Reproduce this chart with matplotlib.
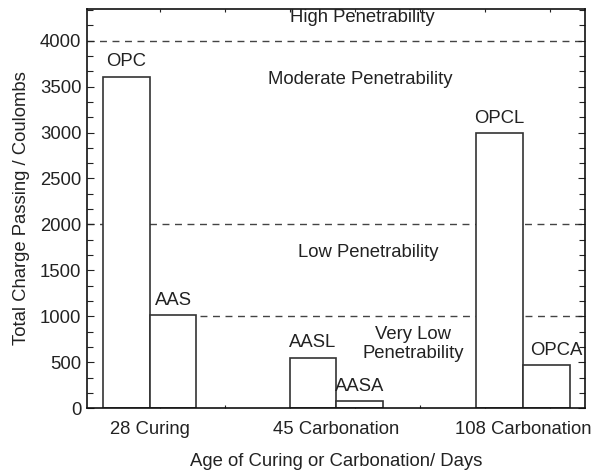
import numpy as np
import matplotlib
matplotlib.use('Agg')
import matplotlib.pyplot as plt
from matplotlib.ticker import MultipleLocator, AutoMinorLocator, FixedLocator

plt.rcParams['font.family'] = ['Liberation Sans', 'DejaVu Sans']

# data
groups = ['28 Curing', '45 Carbonation', '108 Carbonation']
left_names = ['OPC', 'AASL', 'OPCL']
left_vals = [3610, 550, 2990]
right_names = ['AAS', 'AASA', 'OPCA']
right_vals = [1010, 80, 465]
limits = [4000, 2000, 1000]

fig = plt.figure(figsize=(5.95, 4.73), dpi=100)
ax = fig.add_axes([0.1462, 0.137, 0.837, 0.845])

x = np.arange(1, len(groups) + 1)
width = 0.25
ec = '#333333'
tc = '#222222'

# penetrability limits (drawn behind the bars)
dash = (0, (5, 4))
ax.axhline(limits[0], color='#444444', lw=1.0, ls=dash, zorder=1)
ax.axhline(limits[1], color='#444444', lw=1.0, ls=dash, zorder=1)
ax.plot([x[0], 3.34], [limits[2], limits[2]], color='#444444', lw=1.0,
        ls=dash, zorder=1)

b1 = ax.bar(x - width / 2, left_vals, width, color='white', edgecolor=ec,
            linewidth=1.2, zorder=2)
b2 = ax.bar(x + width / 2, right_vals, width, color='white', edgecolor=ec,
            linewidth=1.2, zorder=2)

fs = 13.3
for rect, name in zip(list(b1) + list(b2), left_names + right_names):
    dx = 7 if name == 'OPCA' else 0
    ax.annotate(name, (rect.get_x() + rect.get_width() / 2, rect.get_height()),
                xytext=(dx, 4.5), textcoords='offset points', ha='center',
                va='bottom', fontsize=fs, color=tc)

ax.text(2.14, 4247, 'High Penetrability', ha='center', va='center', fontsize=fs, color=tc)
ax.text(2.13, 3573, 'Moderate Penetrability', ha='center', va='center', fontsize=fs, color=tc)
ax.text(2.17, 1690, 'Low Penetrability', ha='center', va='center', fontsize=fs, color=tc)
ax.text(2.41, 700, 'Very Low\nPenetrability', ha='center', va='center', fontsize=fs,
        color=tc, linespacing=1.2)

ax.set_xlim(0.663, 3.333)
ax.set_ylim(0, 4350)
ax.set_xticks(x)
ax.set_xticklabels(groups)
ax.xaxis.set_minor_locator(FixedLocator(np.arange(1.054, 3.3, 0.3485)))
ax.yaxis.set_major_locator(MultipleLocator(500))
ax.yaxis.set_minor_locator(AutoMinorLocator(3))

ax.tick_params(axis='both', which='both', direction='in', top=True, right=True,
               colors=tc, labelsize=fs, width=0.8)
ax.tick_params(axis='y', which='major', length=5, pad=4)
ax.tick_params(axis='y', which='minor', length=4)
ax.tick_params(axis='x', which='major', length=0, pad=9)
ax.tick_params(axis='x', which='minor', length=2.5)

for s in ax.spines.values():
    s.set_linewidth(1.2)
    s.set_color('#111111')

ax.set_ylabel('Total Charge Passing / Coulombs', fontsize=fs, color=tc, labelpad=7)
ax.set_xlabel('Age of Curing or Carbonation/ Days', fontsize=fs, color=tc, labelpad=11)

fig.savefig('out.png', dpi=100)
